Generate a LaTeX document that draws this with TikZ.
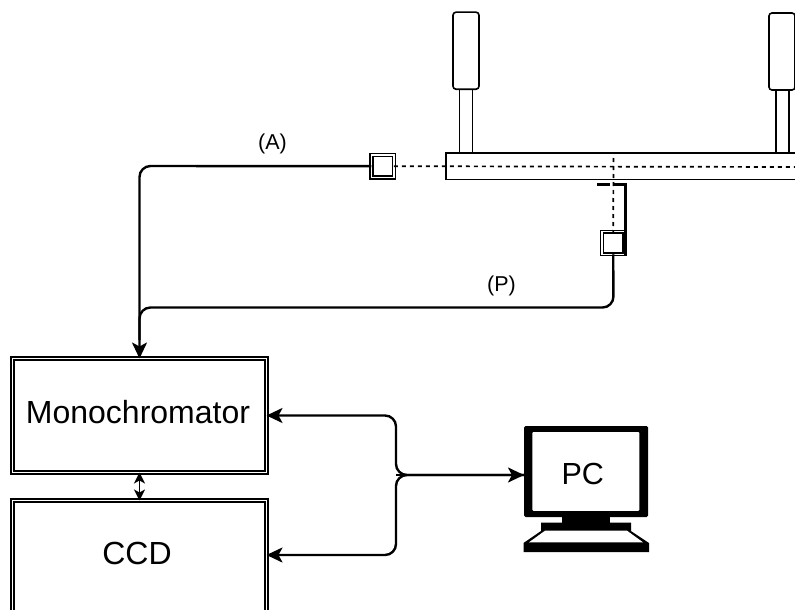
\documentclass[tikz,border=0pt]{standalone}
\usepackage{fontspec}
\setmainfont{Liberation Sans}
\usetikzlibrary{arrows.meta,calc}
\tikzset{
  box/.style={draw=black,fill=white,line width=1.5pt,double=white,double distance=1.3pt,rectangle,inner sep=0pt,outer sep=0pt,minimum width=254pt,minimum height=114pt,font=\fontsize{32}{36}\selectfont,text height=22pt,text depth=7pt},
  sq/.style={draw=black,fill=white,line width=1.6pt,double=white,double distance=1.1pt,rectangle,inner sep=0pt,outer sep=0pt,minimum size=22.5pt},
  thin/.style={draw=black,line width=1.6pt},
  lamp/.style={draw=black,fill=white,line width=1.6pt,rectangle,rounded corners=3pt,inner sep=0pt,outer sep=0pt,minimum width=26pt,minimum height=77pt},
  post/.style={draw=black,fill=white,line width=1.6pt,rectangle,inner sep=0pt,outer sep=0pt,minimum width=13pt,minimum height=64pt},
  fibre/.style={draw=black,line width=2.4pt,rounded corners=11pt},
  arr/.style={-{Stealth[length=16pt,width=15pt,inset=4pt]}},
  dsh/.style={draw=black,line width=1.7pt,dash pattern=on 4pt off 4pt},
  lab/.style={font=\fontsize{21.5}{24}\selectfont,inner sep=0pt},
}
\begin{document}
\begin{tikzpicture}[x=1pt,y=-1pt]
\useasboundingbox (0,0) rectangle (795,610);
\clip (0,0) rectangle (795,610);
% Stage
\node[post] (p1) at (466,121.5) {};
\node[post] (p2) at (782.5,121.5) {};
\node[lamp] (l1) at (466,50.7) {};
\node[lamp] (l2) at (782,51.5) {};
\node[thin,fill=white,rectangle,inner sep=0pt,outer sep=0pt,minimum width=364pt,minimum height=26.5pt] (bar) at (628,166.2) {};
% Collectors
\node[sq] (sqa) at (382.7,166.2) {};
\node[sq] (sqp) at (613.2,243) {};
% Mirror
\coordinate (mleft) at (597,184.5);
\coordinate (mgap) at (610,184.5);
\coordinate (mright) at (613,184.5);
\coordinate (mcorner) at (625,184.5);
\coordinate (mend) at (625,256);
\draw[draw=black,line width=3pt] (mleft) -- (mgap);
\draw[draw=black,line width=3pt] (mright) -- (mcorner) -- (mend);
% Dashed optical axes
\coordinate (axisend) at (795,167);
\coordinate (vtop) at (613.5,158);
\draw[dsh] (sqa.east) -- (axisend);
\draw[dsh] (vtop) -- (sqp.north);
% Boxes
\node[box] (mono) at (139.5,415.5) {Monochromator\hspace*{3pt}};
\node[box,text height=20pt] (ccd) at (139.5,557.5) {CCD\hspace*{5pt}};
% Monitor
\node[fill=black,draw=none,rectangle,rounded corners=1.5pt,inner sep=0pt,outer sep=0pt,minimum width=124pt,minimum height=91pt] (pcframe) at (586,471.5) {};
\node[fill=white,draw=none,rectangle,rounded corners=1pt,inner sep=0pt,outer sep=0pt,minimum width=107pt,minimum height=78.7pt,font=\fontsize{30.5}{36}\selectfont,text height=26pt,text depth=0pt] (pc) at (585.8,471.4) {PC\hspace*{6pt}};
\fill[black] (562,516) rectangle (610,523);
\fill[black] (541,522.7) -- (631,522.7) -- (631,531) -- (649,543) -- (649,552) -- (523.5,552) -- (523.5,543) -- (541,531) -- cycle;
\fill[white] (545,530.7) -- (627,530.7) -- (643,542.3) -- (529,542.3) -- cycle;
% Fibres
\coordinate (ca) at (139.5,166);
\coordinate (cp) at (139.5,307.5);
\coordinate (cq) at (613.5,307.5);
\coordinate (cm) at (139.5,340);
\draw[fibre,arr] (sqa.west) -- (ca) -- (mono.north);
\draw[fibre] (sqp.south) -- (cq) -- (cp) -- (cm);
% Labels
\node[lab] (la) at (272.5,144) {(A)};
\node[lab] (lp) at (501.5,285.5) {(P)};
% Electronics
\coordinate (j1) at (396,415.5);
\coordinate (j2) at (396,475);
\coordinate (j3) at (396,555);
\coordinate (ccdin) at (ccd.east |- j3);
\draw[fibre,arr] (pcframe.west |- j2) -- (j2) -- (j1) -- (mono.east);
\draw[fibre,arr] (pcframe.west |- j2) -- (j2) -- (j3) -- (ccdin);
\draw[draw=black,line width=2.4pt,arr] (j2) -- (pcframe.west |- j2);
\draw[draw=black,line width=1.6pt,{Stealth[length=11pt,width=11pt,inset=3pt]}-{Stealth[length=11pt,width=11pt,inset=3pt]}] (mono.south) -- (ccd.north);
\end{tikzpicture}
\end{document}
